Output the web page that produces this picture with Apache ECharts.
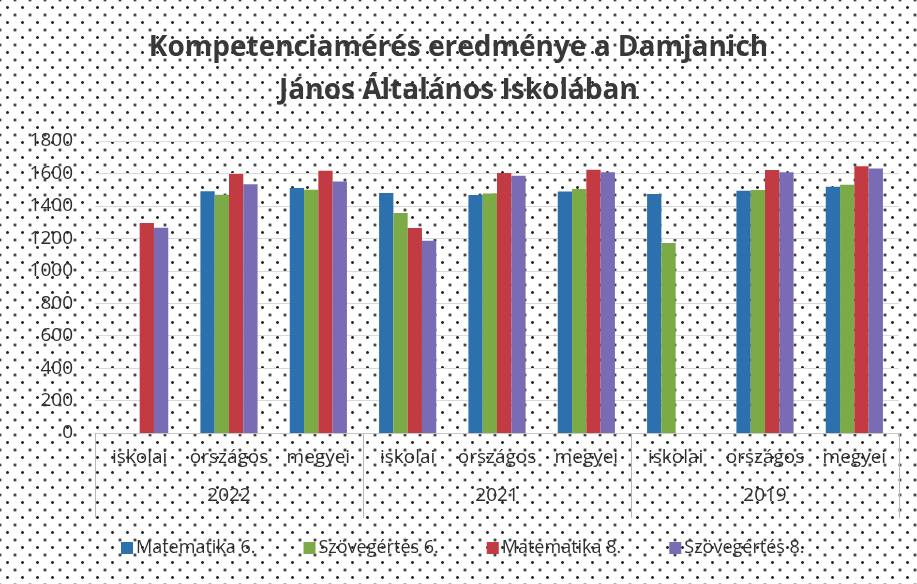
<!DOCTYPE html>
<html>
<head>
<meta charset="utf-8">
<script src="https://cdn.jsdelivr.net/npm/echarts@6/dist/echarts.min.js"></script>
<style>
html,body{margin:0;padding:0;background:#fff;}
#chart{width:917px;height:584px;
background-color:#fff;
background-image:radial-gradient(circle, #2a2a2a 1.1px, rgba(255,255,255,0) 1.7px),radial-gradient(circle, #2a2a2a 1.1px, rgba(255,255,255,0) 1.7px);
background-size:15px 15px;
background-position:0 0, 7.5px 7.5px;}
</style>
</head>
<body>
<div id="chart"></div>
<script>
const categories = ['iskolai','országos','megyei','iskolai','országos','megyei','iskolai','országos','megyei'];
const years = ['2022','2021','2019'];
const seriesNames = ['Matematika 6.','Szövegértés 6.','Matematika 8.','Szövegértés 8.'];
const matematika6 = [null,1490,1510,1480,1467,1488,1473,1494,1518];
const szovegertes6 = [null,1469,1500,1356,1477,1504,1171,1498,1531];
const matematika8 = [1295,1597,1617,1263,1603,1623,null,1621,1644];
const szovegertes8 = [1265,1533,1551,1185,1586,1607,null,1607,1631];
const yTicks = {min:0,max:1800,interval:200};

const colors = ['#2C70AE','#7BAA46','#C23B43','#7A6CB4'];
const values = [matematika6, szovegertes6, matematika8, szovegertes8];
const font = "'Open Sans', sans-serif";

const chart = echarts.init(document.getElementById('chart'));
chart.setOption({
  backgroundColor: 'transparent',
  color: colors,
  title: {
    text: 'Kompetenciamérés eredménye a Damjanich\nJános Általános Iskolában',
    left: 'center',
    top: 22,
    padding: [5, 0, 5, 16],
    textStyle: {fontFamily: font, fontSize: 28, fontWeight: 'bold', color: '#383838', lineHeight: 43}
  },
  legend: {
    bottom: 22,
    left: 116,
    itemWidth: 12,
    itemHeight: 12,
    itemGap: 48,
    icon: 'rect',
    textStyle: {fontFamily: font, fontSize: 18, color: '#2e2e2e', padding: [0,0,0,-2]},
    data: seriesNames
  },
  grid: {left: 95, right: 18, top: 141, bottom: 151},
  xAxis: [
    {
      type: 'category',
      data: categories,
      axisLine: {show: true, lineStyle: {color: '#c8c8c8'}},
      axisTick: {show: false},
      axisLabel: {interval: 0, margin: 15, fontFamily: font, fontSize: 19, color: '#2e2e2e'}
    },
    {
      type: 'category',
      data: years,
      position: 'bottom',
      axisLine: {show: false},
      axisTick: {show: true, length: 85, lineStyle: {color: '#b8b8b8'}},
      axisLabel: {interval: 0, margin: 53, fontFamily: font, fontSize: 19, color: '#2e2e2e'}
    }
  ],
  yAxis: {
    type: 'value',
    min: yTicks.min, max: yTicks.max, interval: yTicks.interval,
    axisLine: {show: false},
    axisTick: {show: false},
    splitLine: {lineStyle: {color: '#d9d9d9'}},
    axisLabel: {fontFamily: font, fontSize: 19, color: '#2e2e2e', margin: 22, formatter: v => String(v)}
  },
  series: seriesNames.map((n, i) => ({
    name: n,
    type: 'bar',
    xAxisIndex: 0,
    data: values[i],
    barGap: '0%',
    barCategoryGap: '36%'
  }))
});
</script>
</body>
</html>
